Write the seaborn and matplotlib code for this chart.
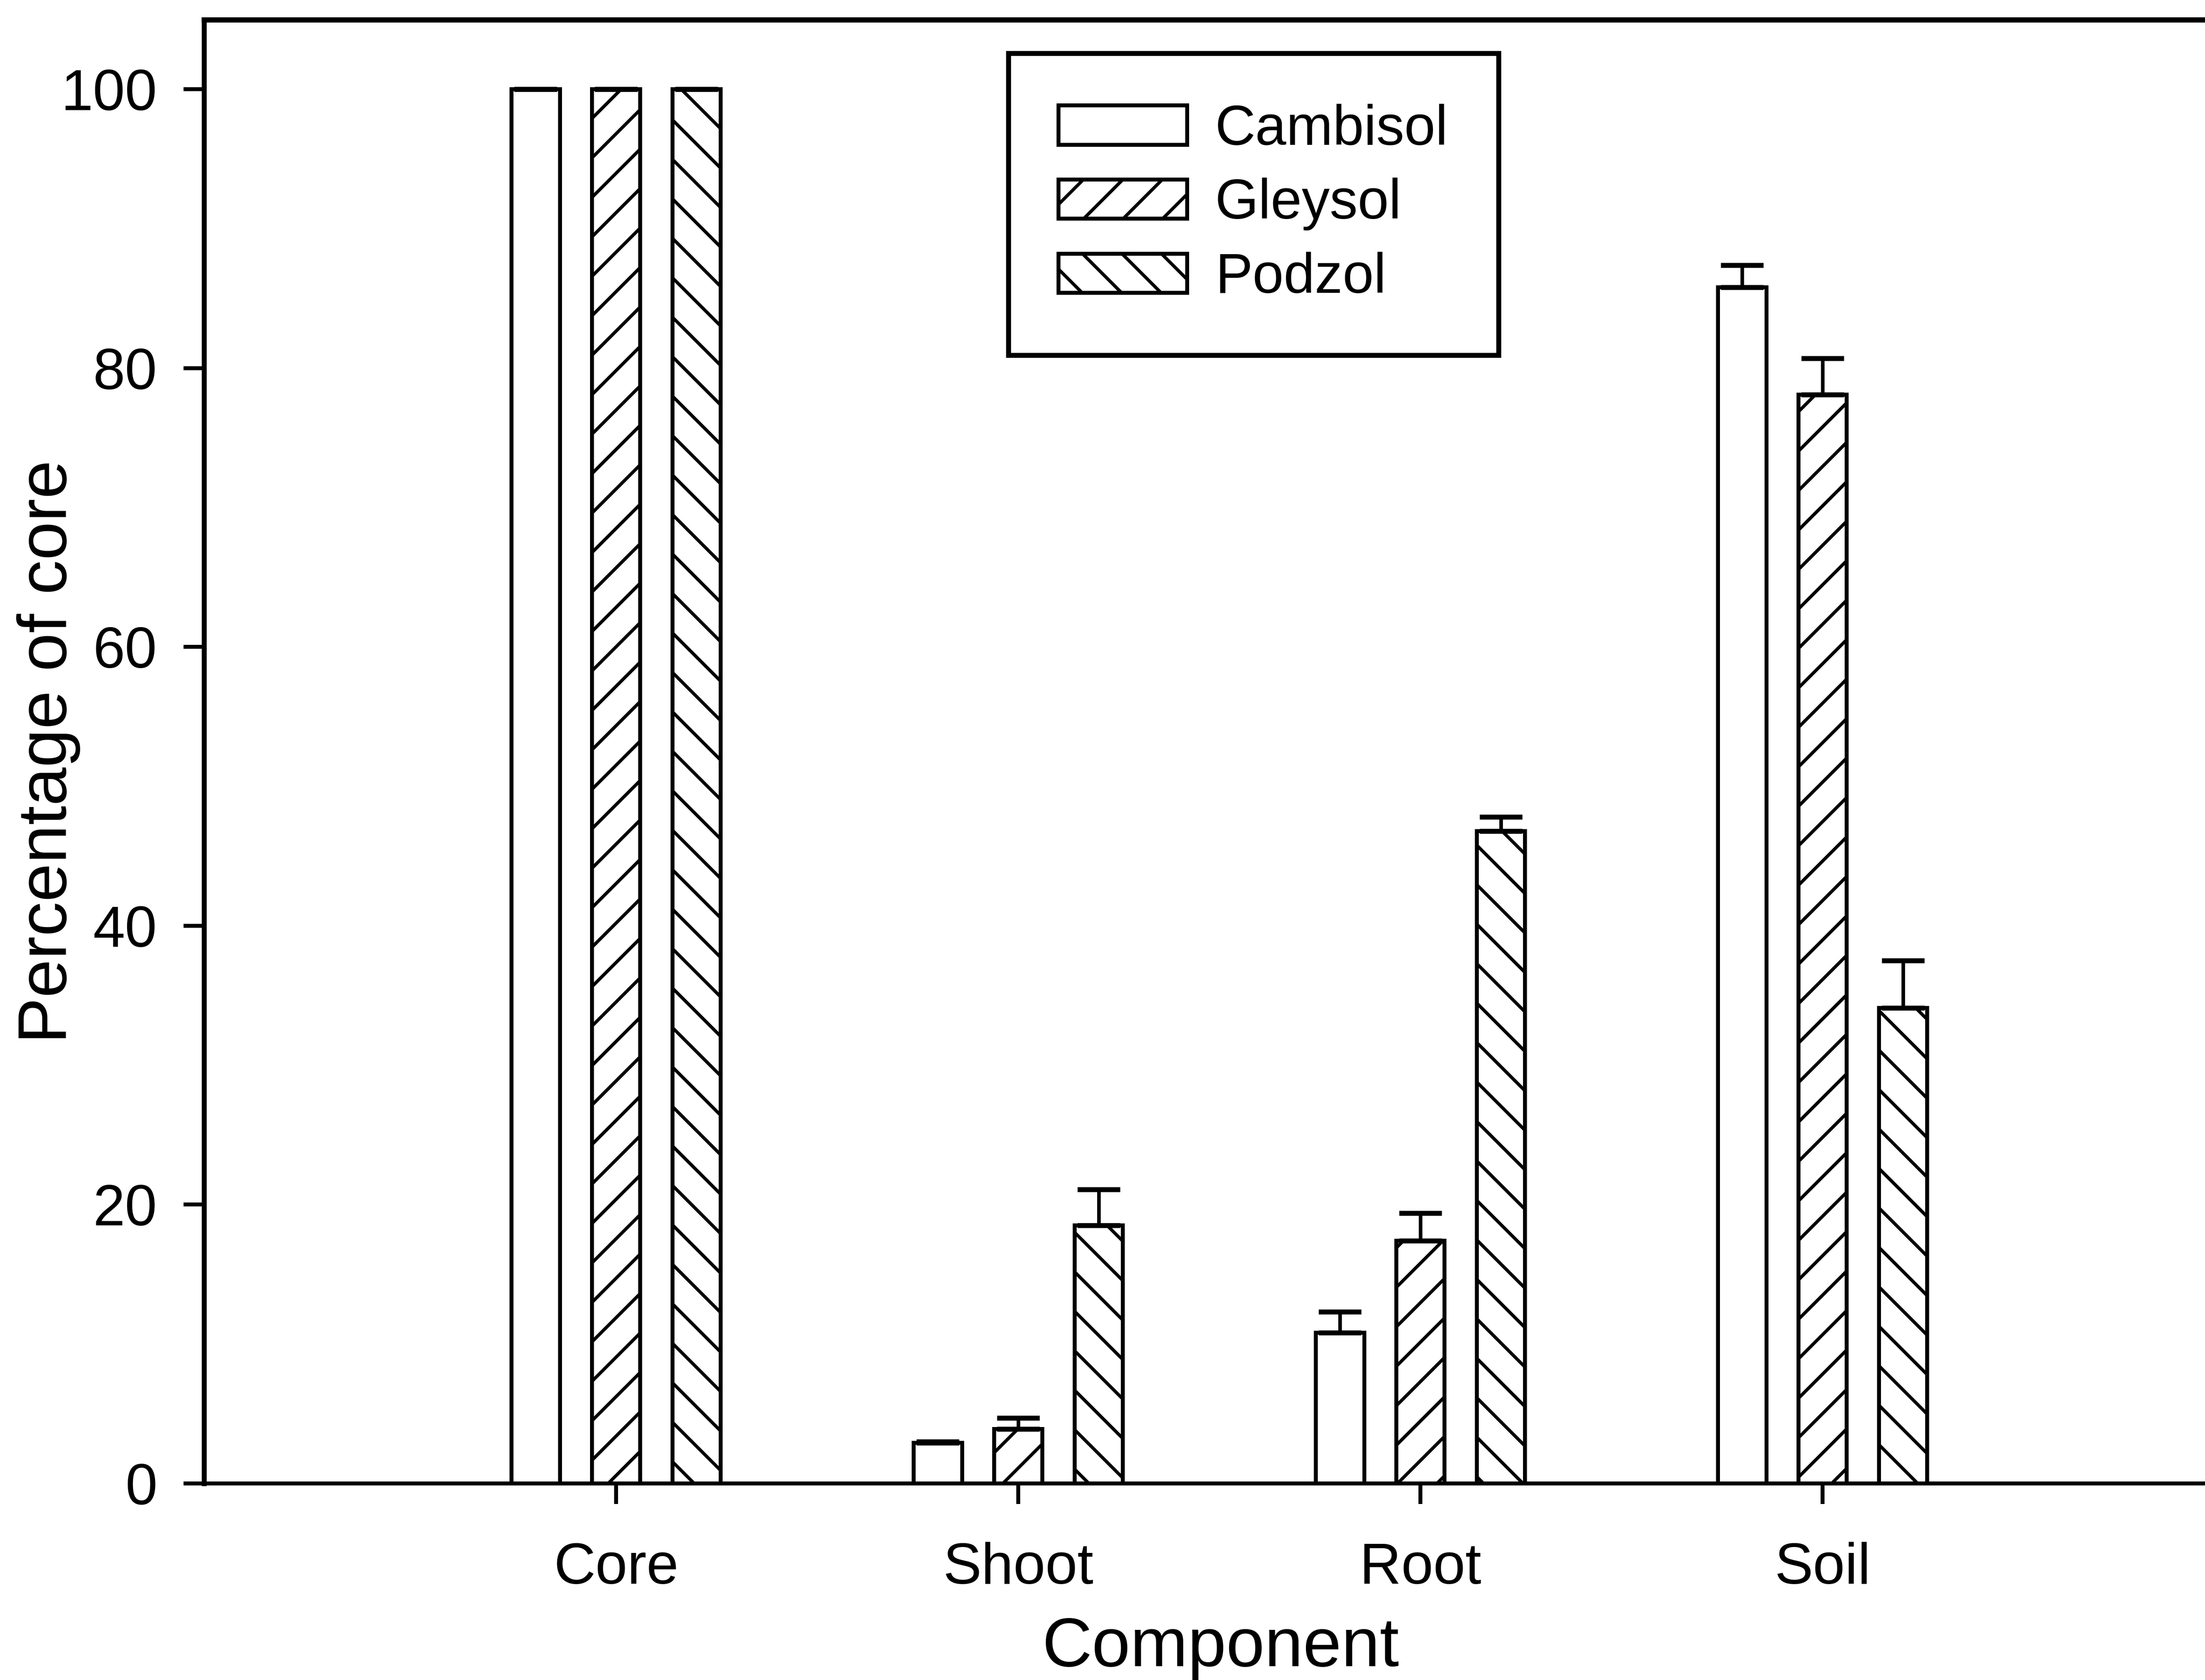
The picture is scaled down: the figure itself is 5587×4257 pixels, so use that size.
import matplotlib
matplotlib.use("Agg")
import matplotlib.pyplot as plt
import seaborn as sns
import pandas as pd
import numpy as np

components = ["Core", "Shoot", "Root", "Soil"]
soils = ["Cambisol", "Gleysol", "Podzol"]
cambisol = [100, 2.9, 10.8, 85.8]
gleysol = [100, 3.9, 17.4, 78.1]
podzol = [100, 18.5, 46.8, 34.1]
cambisol_se = [0, 0.1, 1.5, 1.6]
gleysol_se = [0, 0.8, 2.0, 2.6]
podzol_se = [0, 2.6, 1.0, 3.4]
yticks = [0, 20, 40, 60, 80, 100]

sns.set_style("ticks")
plt.rcParams["font.family"] = ["Liberation Sans", "DejaVu Sans"]
plt.rcParams["hatch.linewidth"] = 2.0
plt.rcParams["hatch.color"] = "black"
plt.rcParams["text.color"] = "black"
plt.rcParams["axes.labelcolor"] = "black"
plt.rcParams["xtick.color"] = "black"
plt.rcParams["ytick.color"] = "black"

df = pd.DataFrame({
    "Component": components * 3,
    "Soil type": [s for s in soils for _ in components],
    "Value": cambisol + gleysol + podzol,
})
errs = {"Cambisol": cambisol_se, "Gleysol": gleysol_se, "Podzol": podzol_se}
hatches = {"Cambisol": "", "Gleysol": "/", "Podzol": "\\"}

fig = plt.figure(figsize=(5587 / 300, 4257 / 300), dpi=300)
ax = fig.add_axes([0.0925, 0.117, 0.9165, 0.8713])

sns.barplot(data=df, x="Component", y="Value", hue="Soil type", order=components,
            hue_order=soils, palette=["white"] * 3, width=0.6, gap=0.4,
            errorbar=None, legend=False, ax=ax, saturation=1)

for cont, s in zip(ax.containers, soils):
    xs, hs = [], []
    for bar in cont:
        bar.set_edgecolor("black")
        bar.set_linewidth(2.4)
        bar.set_facecolor("white")
        bar.set_hatch(hatches[s])
        xs.append(bar.get_x() + bar.get_width() / 2)
        hs.append(bar.get_height())
    e = errs[s]
    ax.errorbar(xs, hs, yerr=[np.zeros(len(e)), e], fmt="none", ecolor="black",
                elinewidth=2.2, capsize=13, capthick=3.0, zorder=3)

ax.set_xlim(-1.025, 4.0)
ax.set_ylim(0, 105)
ax.set_yticks(yticks)
ax.set_yticklabels([str(t) for t in yticks])

for sp in ["left", "bottom", "top", "right"]:
    ax.spines[sp].set_visible(True)
    ax.spines[sp].set_color("black")
ax.spines["left"].set_linewidth(3.0)
ax.spines["bottom"].set_linewidth(2.4)
ax.spines["top"].set_linewidth(3.2)
ax.spines["right"].set_linewidth(3.0)

ax.tick_params(axis="both", direction="out", length=12.5, width=2.4, colors="black",
               labelsize=35, labelcolor="black")
ax.tick_params(axis="y", pad=16)
ax.tick_params(axis="x", pad=23)

ax.set_xlabel("Component", fontsize=42, color="black")
ax.set_ylabel("Percentage of core", fontsize=42, color="black")
ax.xaxis.set_label_coords(0.503, -0.091)
ax.yaxis.set_label_coords(-0.061, 0.5)

leg = ax.legend(ax.containers, soils, loc="upper left", bbox_to_anchor=(0.398, 0.977),
                borderaxespad=0, fontsize=34, frameon=True, fancybox=False,
                edgecolor="black", handlelength=2.3, handleheight=0.7,
                handletextpad=0.5, labelspacing=0.38, borderpad=0.9,
                labelcolor="black")
leg.get_frame().set_linewidth(3.0)
leg.get_frame().set_facecolor("white")
leg.get_frame().set_alpha(1)

fig.savefig("out.png", dpi=300, facecolor="white")
